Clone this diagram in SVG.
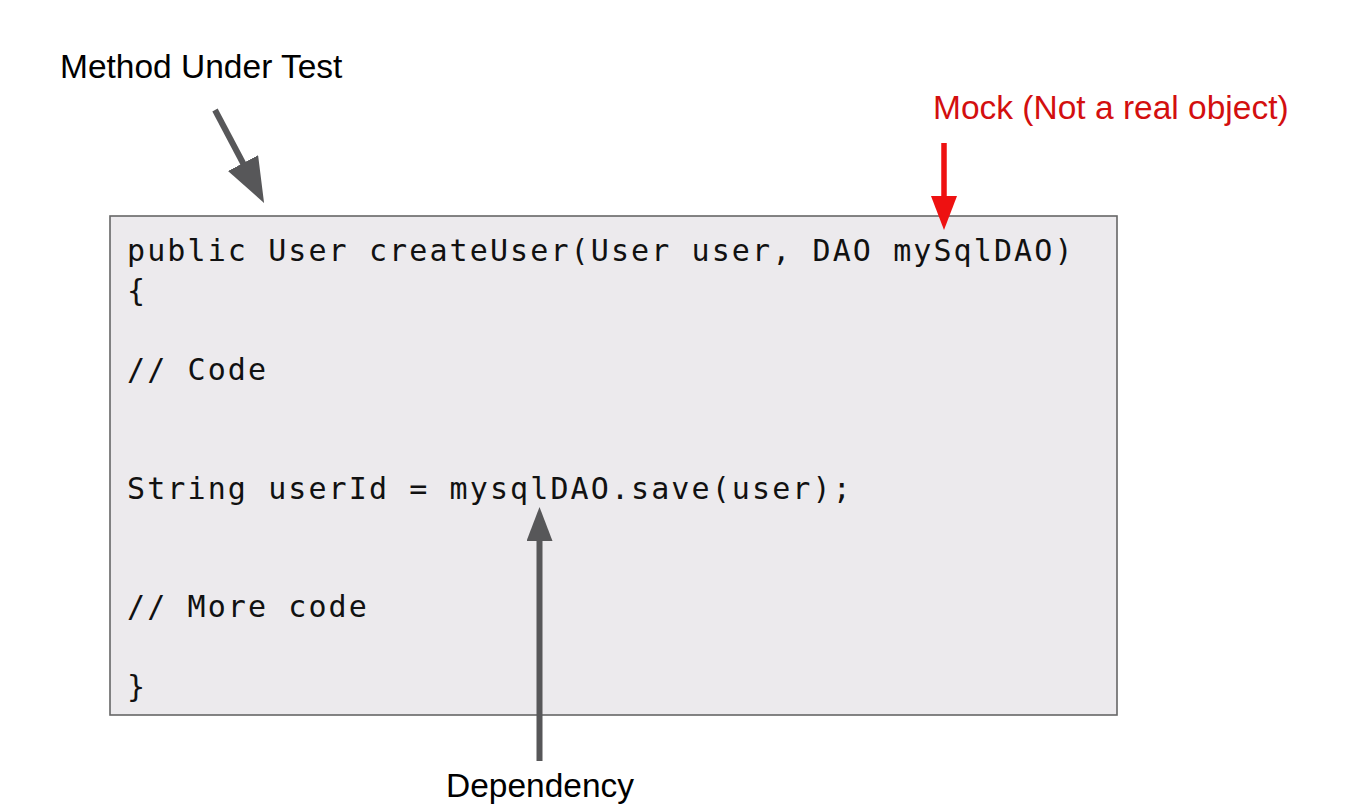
<svg xmlns="http://www.w3.org/2000/svg" width="1372" height="808" viewBox="0 0 1372 808">
<style>
.label{font-family:"Liberation Sans",Arial,sans-serif;font-size:33.5px;fill:#000}
.mock{fill:#D30F0F}
.code{font-family:"DejaVu Sans Mono","Liberation Mono",monospace;font-size:30px;letter-spacing:2.1px;fill:#111}
.box{fill:#ECEAED;stroke:#666666;stroke-width:1.6}
.gray{stroke:#575759;stroke-width:6;fill:none}
.red{stroke:#EE1111;stroke-width:5.5;fill:none}
</style>
<defs>
<marker id="headBig" markerUnits="userSpaceOnUse" markerWidth="46" markerHeight="34" refX="1" refY="17" orient="auto">
<path d="M0,0 L45,17 L0,34 z" fill="#575759"/>
</marker>
<marker id="headGray" markerUnits="userSpaceOnUse" markerWidth="35" markerHeight="26" refX="1" refY="13" orient="auto">
<path d="M0,0 L34,13 L0,26 z" fill="#575759"/>
</marker>
<marker id="headRed" markerUnits="userSpaceOnUse" markerWidth="35" markerHeight="26" refX="1" refY="13" orient="auto">
<path d="M0,0 L34,13 L0,26 z" fill="#EE1111"/>
</marker>
</defs>
<rect width="1372" height="808" fill="#FFFFFF"/>
<g id="code-box">
<rect class="box" x="110" y="216" width="1007" height="499"/>
<text class="code" x="127" y="261">public User createUser(User user, DAO mySqlDAO)</text>
<text class="code" x="127" y="300.6">{</text>
<text class="code" x="127" y="379.8">// Code</text>
<text class="code" x="127" y="498.6">String userId = mysqlDAO.save(user);</text>
<text class="code" x="127" y="617.4">// More code</text>
<text class="code" x="127" y="696.6">}</text>
</g>
<g id="label-method">
<text class="label" x="60" y="78">Method Under Test</text>
</g>
<g id="label-mock">
<text class="label mock" x="933" y="118.5">Mock (Not a real object)</text>
</g>
<g id="label-dependency">
<text class="label" x="540" y="797" text-anchor="middle">Dependency</text>
</g>
<g id="connectors">
<line class="gray" x1="215" y1="110" x2="243.5" y2="164" stroke-width="7" marker-end="url(#headBig)"/>
<line class="red" x1="944" y1="143" x2="944" y2="197" marker-end="url(#headRed)"/>
<line class="gray" x1="539.5" y1="761" x2="539.5" y2="540" stroke-width="5.5" marker-end="url(#headGray)"/>
</g>
</svg>
